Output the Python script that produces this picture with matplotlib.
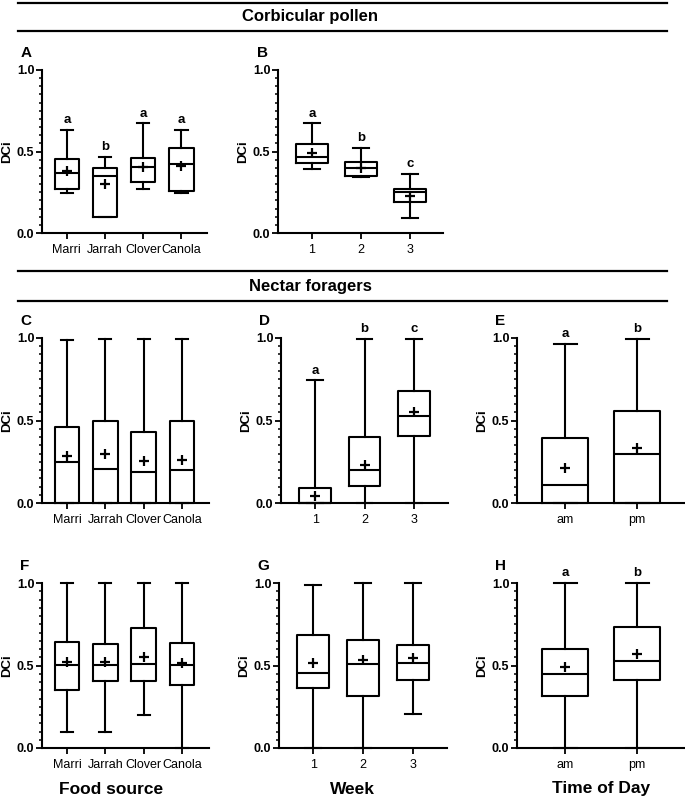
import matplotlib
matplotlib.use('Agg')
import matplotlib.pyplot as plt
from matplotlib.lines import Line2D
from matplotlib.ticker import MultipleLocator

plt.rcParams['font.family'] = ['Liberation Sans', 'DejaVu Sans']

W, H = 685, 801

food = ['Marri', 'Jarrah', 'Clover', 'Canola']
week = ['1', '2', '3']
tod = ['am', 'pm']

# each box: (whislo, q1, med, q3, whishi, mean)
a_stats = [(0.243, 0.272, 0.366, 0.454, 0.632, 0.382),
           (0.096, 0.096, 0.350, 0.397, 0.468, 0.300),
           (0.272, 0.311, 0.407, 0.458, 0.673, 0.407),
           (0.243, 0.260, 0.421, 0.524, 0.632, 0.410)]
a_letters = ['a', 'b', 'a', 'a']

b_stats = [(0.393, 0.431, 0.468, 0.544, 0.673, 0.493),
           (0.346, 0.352, 0.397, 0.434, 0.524, 0.400),
           (0.094, 0.192, 0.250, 0.268, 0.362, 0.229)]
b_letters = ['a', 'b', 'c']

c_stats = [(0.0, 0.0, 0.246, 0.459, 0.990, 0.287),
           (0.0, 0.0, 0.206, 0.500, 0.996, 0.297),
           (0.0, 0.0, 0.188, 0.430, 0.996, 0.255),
           (0.0, 0.0, 0.198, 0.495, 0.996, 0.263)]

d_stats = [(0.0, 0.0, 0.0, 0.091, 0.743, 0.040),
           (0.0, 0.101, 0.198, 0.398, 0.994, 0.232),
           (0.0, 0.408, 0.525, 0.677, 0.994, 0.550)]
d_letters = ['a', 'b', 'c']

e_stats = [(0.0, 0.0, 0.112, 0.396, 0.966, 0.213),
           (0.0, 0.0, 0.296, 0.558, 0.996, 0.335)]
e_letters = ['a', 'b']

f_stats = [(0.099, 0.352, 0.503, 0.644, 1.0, 0.519),
           (0.099, 0.406, 0.503, 0.628, 1.0, 0.523),
           (0.200, 0.406, 0.511, 0.725, 1.0, 0.549),
           (0.0, 0.384, 0.503, 0.638, 1.0, 0.515)]

g_stats = [(0.0, 0.362, 0.453, 0.684, 0.990, 0.513),
           (0.0, 0.318, 0.507, 0.656, 1.0, 0.533),
           (0.205, 0.410, 0.515, 0.624, 1.0, 0.543)]

h_stats = [(0.0, 0.318, 0.447, 0.600, 1.0, 0.489),
           (0.0, 0.412, 0.525, 0.734, 1.0, 0.567)]
h_letters = ['a', 'b']


def px_axes(fig, left, right, top, bottom):
    return fig.add_axes([left / W, 1 - bottom / H, (right - left) / W, (bottom - top) / H])


def draw(ax, cats, stats, letters=None, xlim=None, tag=None):
    n = len(cats)
    pos = list(range(1, n + 1))
    bx = []
    for s in stats:
        bx.append(dict(whislo=s[0], q1=s[1], med=s[2], q3=s[3], whishi=s[4], mean=s[5]))
    lw = 1.5
    arts = ax.bxp(bx, positions=pos, widths=0.64, capwidths=0.32, showmeans=True,
                  showfliers=False,
                  boxprops=dict(color='black', linewidth=lw),
                  whiskerprops=dict(color='black', linewidth=lw),
                  capprops=dict(color='black', linewidth=lw),
                  medianprops=dict(color='black', linewidth=lw),
                  meanprops=dict(marker='+', markersize=7, markeredgewidth=1.6,
                                 markeredgecolor='black'))
    for k in arts:
        for a in arts[k]:
            a.set_clip_on(False)
    if letters:
        for p, s, t in zip(pos, stats, letters):
            ax.text(p, s[4] + 0.022, t, ha='center', va='bottom', fontsize=9.5,
                    fontweight='bold')
    ax.set_xlim(*xlim)
    ax.set_ylim(0, 1)
    ax.set_xticks(pos)
    ax.set_xticklabels(cats, fontsize=9)
    ax.set_yticks([0, 0.5, 1.0])
    ax.set_yticklabels(['0.0', '0.5', '1.0'], fontsize=9, fontweight='bold')
    ax.yaxis.set_minor_locator(MultipleLocator(0.05))
    ax.tick_params(axis='y', which='major', length=4, width=1.3, pad=1.5)
    ax.tick_params(axis='y', which='minor', length=2.5, width=1.1)
    ax.tick_params(axis='x', which='major', length=4, width=1.3, pad=4)
    for sp in ['top', 'right']:
        ax.spines[sp].set_visible(False)
    for sp in ['left', 'bottom']:
        ax.spines[sp].set_linewidth(1.5)
    ax.set_ylabel('DCi', fontsize=9.5, fontweight='bold', labelpad=3)
    ax.patch.set_alpha(0)
    if tag:
        ax.text(-0.13, 1.06, tag, transform=ax.transAxes, fontsize=11,
                fontweight='bold', ha='left', va='bottom')


fig = plt.figure(figsize=(W / 100, H / 100), dpi=100)

ax_a = px_axes(fig, 42, 207, 70, 233)
draw(ax_a, food, a_stats, a_letters, (0.35, 4.67), 'A')
ax_b = px_axes(fig, 278, 443, 70, 233)
draw(ax_b, week, b_stats, b_letters, (0.31, 3.67), 'B')

ax_c = px_axes(fig, 42, 209, 338, 503)
draw(ax_c, food, c_stats, None, (0.35, 4.70), 'C')
ax_d = px_axes(fig, 281, 448, 338, 503)
draw(ax_d, week, d_stats, d_letters, (0.31, 3.69), 'D')
ax_e = px_axes(fig, 517, 684, 338, 503)
draw(ax_e, tod, e_stats, e_letters, (0.333, 2.65), 'E')

ax_f = px_axes(fig, 42, 209, 583, 748)
draw(ax_f, food, f_stats, None, (0.35, 4.70), 'F')
ax_g = px_axes(fig, 279, 447, 583, 748)
draw(ax_g, week, g_stats, None, (0.31, 3.69), 'G')
ax_h = px_axes(fig, 517, 684, 583, 748)
draw(ax_h, tod, h_stats, h_letters, (0.333, 2.65), 'H')

# section rules and headings
for yy in [3, 31, 271, 301]:
    fig.add_artist(Line2D([18 / W, 667 / W], [1 - yy / H, 1 - yy / H],
                          color='black', linewidth=1.6))
fig.text(310 / W, 1 - 17 / H, 'Corbicular pollen', ha='center', va='center',
         fontsize=12, fontweight='bold')
fig.text(310 / W, 1 - 286 / H, 'Nectar foragers', ha='center', va='center',
         fontsize=12, fontweight='bold')

fig.text(111 / W, 1 - 789 / H, 'Food source', ha='center', va='center',
         fontsize=12.5, fontweight='bold')
fig.text(352 / W, 1 - 789 / H, 'Week', ha='center', va='center',
         fontsize=12.5, fontweight='bold')
fig.text(601 / W, 1 - 789 / H, 'Time of Day', ha='center', va='center',
         fontsize=12.5, fontweight='bold')

fig.savefig('out.png', dpi=100)
